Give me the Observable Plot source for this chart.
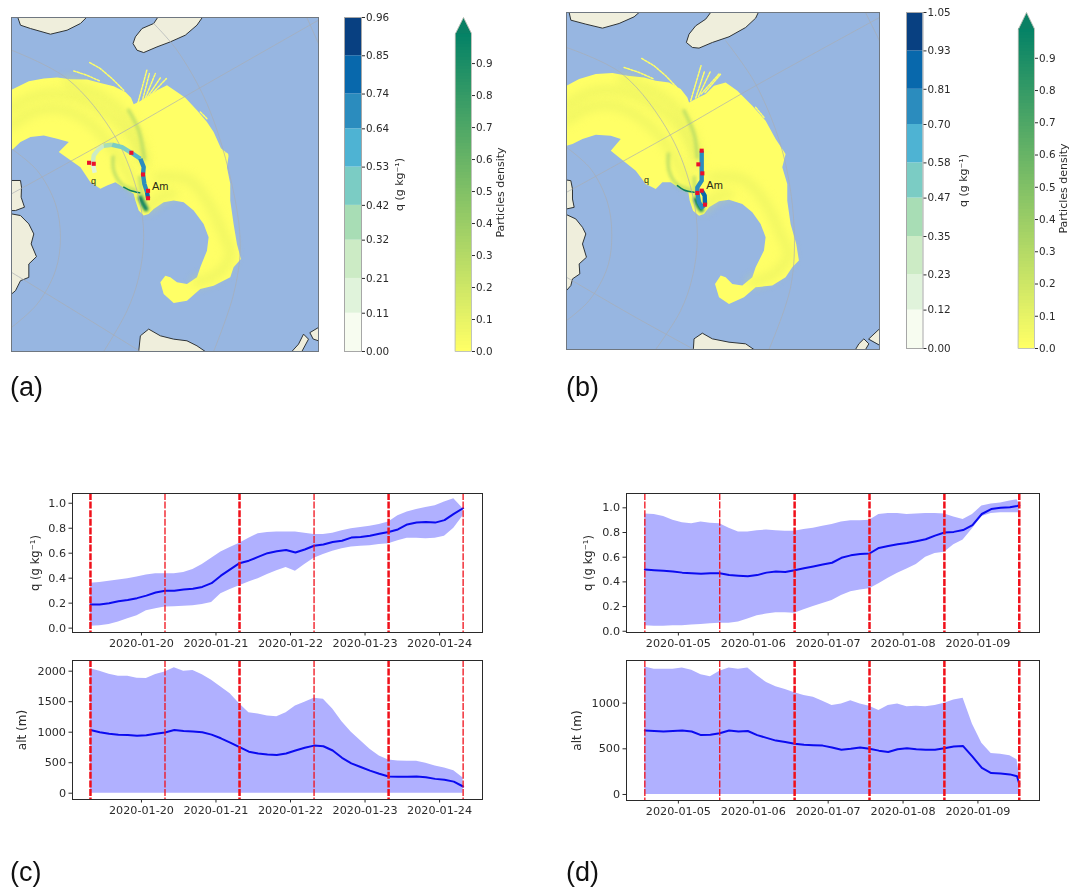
<!DOCTYPE html>
<html>
<head>
<meta charset="utf-8">
<script src="https://cdn.jsdelivr.net/npm/d3@7"></script>
<script src="https://cdn.jsdelivr.net/npm/@observablehq/plot@0.6"></script>
<style>
html,body{margin:0;padding:0;background:#fff}
#page{position:relative;width:1070px;height:890px;overflow:hidden;filter:blur(0.45px)}
.tag{position:absolute;font-family:"Liberation Sans",sans-serif;font-size:27px;line-height:30px;color:#111}
</style>
</head>
<body>
<div id="page"></div>
<script>
// ---------- colours ----------
const gnbu = ["#f7fcf0","#e0f3db","#ccebc5","#a8ddb5","#7bccc4","#4eb3d3","#2b8cbe","#0868ac","#084081"];
const ocean = "#97b6e1", land = "#efeedc", plumeYellow = "#ffff66";

// ---------- colour bars ----------
const qTicksA = [0.00,0.11,0.21,0.32,0.42,0.53,0.64,0.74,0.85,0.96];
const qTicksB = [0.00,0.12,0.23,0.35,0.47,0.58,0.70,0.81,0.93,1.05];
const densityTicks = [0,0.1,0.2,0.3,0.4,0.5,0.6,0.7,0.8,0.9];

// ---------- map A ----------
const plumeA = [[33,238],[85,213],[130,205],[170,202],[210,207],[260,208],[300,218],[340,228],[375,245],[392,262],[400,282],[420,272],[445,258],[470,240],[500,225],[530,245],[555,262],[590,300],[620,335],[640,365],[665,420],[685,435],[680,470],[690,520],[690,570],[700,640],[710,700],[722,745],[700,770],[690,800],[640,825],[600,835],[560,870],[520,877],[490,850],[480,815],[495,795],[510,800],[530,815],[560,820],[590,800],[600,770],[620,720],[625,680],[610,640],[580,600],[550,575],[520,570],[490,575],[460,595],[445,610],[430,615],[415,600],[405,570],[400,550],[375,535],[345,515],[320,525],[300,535],[270,515],[240,470],[175,425],[205,395],[170,385],[130,375],[90,380],[60,395],[33,420]];
const specksA = [[[268,157],[300,175],[335,205],[370,240]],[[220,182],[260,195],[300,213]],[[412,280],[440,178]],[[425,275],[447,190]],[[432,270],[465,190]],[[440,262],[482,200]],[[450,255],[498,205]],[[600,305],[620,325]],[[660,415],[682,432]]];
const streaksA = [
 [[33,295],[90,262],[160,250],[240,265],[310,305],[370,355],[415,420],[432,460]],
 [[33,345],[100,305],[175,295],[250,325],[315,385],[370,465],[405,535]],
 [[200,215],[290,250],[360,300],[410,370],[430,440]],
 [[470,500],[560,505],[620,570],[665,660],[690,735],[650,790],[590,815]],
 [[445,590],[490,555],[520,550]]];
const strongA = [[[385,300],[415,360],[432,445]],[[338,440],[340,480],[365,522],[405,540]],[[418,500],[425,550],[436,585]]];
const coreA = [[[370,530],[390,540],[418,547]]];
const blobA = [[[420,562],[427,578],[437,595]]];
const landsA = [
 [[52,22],[60,45],[90,55],[150,72],[200,60],[240,40],[258,22]],
 [[472,22],[460,40],[425,55],[405,80],[398,100],[410,120],[430,127],[470,110],[510,95],[555,75],[590,45],[606,22]],
 [[33,510],[60,510],[63,530],[62,560],[72,590],[45,600],[33,600]],
 [[33,610],[60,615],[85,640],[100,670],[92,700],[108,738],[85,760],[85,800],[60,810],[45,840],[33,850]],
 [[415,1022],[420,975],[445,955],[480,975],[520,985],[560,990],[590,1005],[615,1022]],
 [[875,1022],[895,1000],[910,970],[925,985],[905,1022]],
 [[930,965],[955,950],[955,990],[940,985]]];
const gridA = [
 [[33,415],[110,480],[165,580],[180,680],[165,780],[110,880],[33,950]],
 [[33,120],[200,205],[345,380],[415,560],[430,680],[415,800],[380,900],[310,1022]],
 [[460,40],[530,120],[620,280],[690,500],[720,700],[700,850],[640,1022]],
 [[920,22],[955,100]],
 [[33,550],[345,378],[600,232],[955,30]],
 [[33,785],[230,905],[420,1022]]];
const trajA = [[283,487,.2],[277,460,.23],[280,435,.27],[293,418,.3],[310,406,.33],[335,403,.45],[365,410,.5],[393,427,.6],[420,445,.68],[430,470,.68],[428,492,.68],[432,520,.7],[440,545,.8],[443,563,.92]];
const marksA = [[266,457],[280,460],[393,427],[428,492],[443,541],[443,563]];
const labelsA = [{x:455,y:528,t:"Am",s:11},{x:272,y:512,t:"q",s:9}];

// ---------- map B ----------
const plumeB = [[32,225],[70,205],[120,190],[170,187],[215,195],[265,200],[300,210],[340,215],[375,235],[395,260],[400,275],[425,262],[450,250],[475,225],[510,215],[545,240],[590,285],[630,330],[660,385],[690,430],[680,470],[695,520],[695,570],[705,640],[722,700],[730,750],[710,770],[690,800],[650,825],[600,830],[565,860],[520,880],[490,860],[478,820],[495,795],[510,800],[530,820],[560,825],[590,800],[600,770],[625,720],[630,680],[615,640],[590,605],[560,580],[520,567],[490,572],[460,590],[445,610],[430,615],[412,600],[402,570],[398,545],[375,535],[345,515],[320,515],[300,535],[270,520],[240,480],[165,420],[195,385],[165,375],[120,372],[80,385],[50,400],[32,405]];
const specksB = [[[258,143],[295,165],[330,195],[365,232]],[[205,170],[250,185],[295,205]],[[405,270],[436,165]],[[420,262],[447,180]],[[428,258],[465,180]],[[436,250],[490,190]],[[448,245],[495,190]],[[600,290],[625,320]],[[655,408],[685,430]]];
const streaksB = [
 [[32,285],[90,250],[160,238],[240,255],[310,295],[370,345],[412,420],[425,470]],
 [[32,330],[100,290],[175,285],[250,320],[315,380],[370,465],[405,530]],
 [[200,205],[290,240],[360,290],[405,360],[425,430]],
 [[470,500],[560,505],[625,570],[670,660],[698,735],[655,790],[590,815]],
 [[445,590],[490,555],[520,550]]];
const strongB = [[[385,300],[415,370],[425,440]],[[338,430],[340,480],[365,522],[405,538]],[[416,500],[420,550],[433,590]]];
const coreB = [[[365,525],[385,538],[415,545]]];
const blobB = [[[420,567],[427,582],[437,597]]];
const landsB = [
 [[40,5],[45,28],[90,40],[140,52],[190,38],[235,18],[250,5]],
 [[465,5],[450,25],[420,45],[400,70],[392,95],[410,110],[430,112],[470,95],[520,78],[570,50],[600,22],[608,5]],
 [[32,508],[45,510],[50,535],[50,565],[55,590],[32,595]],
 [[32,612],[60,625],[80,650],[90,670],[80,700],[92,740],[70,760],[72,790],[50,805],[45,825],[32,840]],
 [[413,1017],[415,985],[440,968],[470,985],[520,995],[570,1000],[595,1017]],
 [[900,1017],[910,1000],[925,985],[940,1000],[930,1017]],
 [[940,985],[972,955],[972,1003]]];
const gridB = [
 [[32,410],[105,475],[155,575],[168,670],[155,770],[100,870],[32,930]],
 [[32,110],[200,190],[345,375],[410,550],[425,680],[410,800],[375,900],[300,1017]],
 [[510,90],[600,220],[680,420],[715,640],[705,830],[640,1017]],
 [[930,5],[972,90]],
 [[32,545],[345,372],[600,225],[972,20]],
 [[32,800],[230,915],[415,1017]]];
const trajB = [[438,420,.75],[438,460,.75],[438,490,.75],[438,510,.75],[425,530,.75],[425,547,.75],[430,575,.75],[438,590,.78],[448,582,.9],[447,555,.9],[438,540,.85]];
const marksB = [[438,420],[428,461],[440,488],[438,540],[425,547],[448,582]];
const labelsB = [{x:452,y:525,t:"Am",s:11},{x:265,y:508,t:"q",s:9}];

// ---------- time series: offsets in days from the first red line ----------
const daysC = [0,.125,.25,.375,.5,.625,.75,.875,1,1.125,1.25,1.375,1.5,1.625,1.75,1.875,2,2.125,2.25,2.375,2.5,2.625,2.75,2.875,3,3.125,3.25,3.375,3.5,3.625,3.75,3.875,4,4.125,4.25,4.375,4.5,4.625,4.75,4.875,5];
const daysD = [0,.125,.25,.375,.5,.625,.75,.875,1,1.125,1.25,1.375,1.5,1.625,1.75,1.875,2,2.125,2.25,2.375,2.5,2.625,2.75,2.875,3,3.125,3.25,3.375,3.5,3.625,3.75,3.875,4,4.125,4.25,4.375,4.5,4.625,4.75,4.875,4.97,5];

const qMeanC = [.19,.19,.20,.215,.225,.24,.26,.285,.30,.30,.31,.315,.33,.36,.42,.47,.52,.54,.57,.60,.615,.625,.605,.63,.66,.67,.69,.70,.725,.73,.74,.755,.77,.79,.83,.845,.85,.845,.865,.915,.96];
const qHighC = [.36,.365,.375,.385,.395,.41,.425,.435,.435,.435,.445,.47,.51,.56,.61,.645,.68,.72,.755,.765,.77,.77,.77,.76,.75,.75,.76,.78,.795,.805,.815,.83,.85,.90,.93,.95,.965,.98,1.01,1.035,.955];
const qLowC = [.015,.02,.03,.05,.075,.10,.14,.155,.17,.172,.175,.18,.19,.205,.275,.31,.34,.37,.395,.43,.46,.485,.455,.51,.56,.59,.615,.635,.65,.655,.66,.67,.675,.70,.72,.72,.715,.72,.735,.80,.90];
const altHighC = [2040,2000,1950,1915,1915,1885,1880,1945,1985,2055,2000,2010,1940,1850,1740,1630,1465,1320,1300,1265,1255,1320,1430,1490,1555,1540,1380,1170,1000,860,720,610,545,530,525,525,490,445,415,370,250];
const altMeanC = [1035,1000,975,960,955,940,950,975,995,1035,1020,1010,1000,960,900,830,755,680,650,635,625,650,700,745,780,770,700,580,490,430,370,320,275,270,270,275,260,235,220,190,110];

const qHighD = [.95,.945,.93,.90,.88,.87,.885,.875,.87,.835,.805,.805,.815,.82,.815,.81,.81,.825,.835,.85,.865,.885,.895,.895,.90,.945,.955,.955,.945,.95,.955,.955,.95,.925,.905,.945,1.015,1.03,1.04,1.055,1.065,1.03];
const qMeanD = [.50,.495,.49,.485,.475,.47,.465,.47,.47,.455,.45,.445,.455,.475,.485,.48,.495,.51,.525,.54,.555,.595,.615,.625,.63,.675,.69,.705,.715,.73,.745,.775,.80,.805,.82,.86,.95,.99,1.0,1.005,1.015,1.02];
const qLowD = [.045,.04,.04,.045,.045,.05,.055,.06,.065,.065,.075,.10,.125,.14,.15,.15,.145,.175,.20,.225,.25,.29,.32,.335,.345,.385,.43,.47,.505,.54,.60,.63,.64,.70,.74,.83,.93,.955,.96,.96,.96,.96];
const altHighD = [1395,1370,1370,1370,1385,1360,1310,1290,1350,1385,1370,1385,1300,1225,1180,1150,1113,1085,1065,1020,975,990,1025,990,965,920,975,990,960,965,960,975,1000,1035,1055,770,560,450,440,425,380,225];
const altMeanD = [700,695,690,695,700,690,650,655,670,700,690,695,650,620,590,575,555,545,540,535,515,490,500,515,500,480,465,495,505,495,490,490,505,525,530,415,290,235,230,220,200,115];

const datesC = ["2020-01-20","2020-01-21","2020-01-22","2020-01-23","2020-01-24"];
const datesD = ["2020-01-05","2020-01-06","2020-01-07","2020-01-08","2020-01-09"];
const redOffsets = [0,1,2,3,4,5];
const redWidthsC = [2.5,1.3,2.5,1.3,2.5,1.3];
const redWidthsD = [1.3,1.3,2.5,2.5,2.5,2.5];

// ---------- layout helpers ----------
const page = document.getElementById("page");
const baseStyle = (l,t,fs) => ({position:"absolute",left:l+"px",top:t+"px",background:"none",overflow:"visible",fontFamily:"'DejaVu Sans',sans-serif",fontSize:(fs||10.4)+"px",color:"#2b2b2b"});
const X = d => d[0], Y = d => d[1];
const closed = (pts,o) => Plot.line(pts,{x:X,y:Y,curve:"linear-closed",stroke:"none",...o});
const open = (pts,o) => Plot.line(pts,{x:X,y:Y,fill:"none",...o});

function mapPanel(f, c){
  const w = f.x2-f.x1, h = f.y2-f.y1;
  page.appendChild(Plot.plot({
    width:w,height:h,margin:0,style:baseStyle(f.x1,f.y1),
    x:{domain:c.dx,axis:null},y:{domain:c.dy,axis:null},
    color:{type:"threshold",domain:c.qTicks.slice(1,-1),range:gnbu},
    marks:[
      Plot.frame({fill:ocean,stroke:"none"}),
      c.lands.map(p=>closed(p,{fill:land,stroke:"#2f3437",strokeWidth:1,clip:true})),
      closed(c.plume,{fill:plumeYellow,clip:true}),
      c.specks.map(p=>open(p,{stroke:plumeYellow,strokeWidth:1.5,strokeDasharray:"2.2,1.4",clip:true})),
      c.streaks.map(p=>open(p,{stroke:"#d9ea5e",strokeOpacity:.38,strokeWidth:10,curve:"catmull-rom",imageFilter:"blur(4px)",clip:true})),
      c.strong.map(p=>open(p,{stroke:"#9fd066",strokeOpacity:.6,strokeWidth:3.5,curve:"catmull-rom",imageFilter:"blur(1.8px)"})),
      c.blob.map(p=>open(p,{stroke:"#5cb066",strokeOpacity:.75,strokeWidth:6,curve:"catmull-rom",imageFilter:"blur(1.5px)"})),
      c.blob.map(p=>open(p,{stroke:"#0c7f62",strokeWidth:3,curve:"catmull-rom",imageFilter:"blur(.8px)"})),
      c.core.map(p=>open(p,{stroke:"#0c7f62",strokeWidth:1.5,curve:"catmull-rom",imageFilter:"blur(.6px)"})),
      c.grid.map(p=>open(p,{stroke:"#a9adb3",strokeOpacity:.75,strokeWidth:.9,curve:"catmull-rom",clip:true})),
      Plot.line(c.traj,{x:X,y:Y,z:null,stroke:d=>d[2],strokeWidth:4.4,strokeLinecap:"butt"}),
      Plot.dot(c.marks,{x:X,y:Y,symbol:"square",r:2.3,fill:"#ea0f2b"}),
      Plot.text(c.labels,{x:"x",y:"y",text:"t",fontSize:"s",textAnchor:"start",fill:"#2b2b16",fontFamily:"'Liberation Sans',sans-serif"}),
      Plot.frame({stroke:"#6f7780",strokeWidth:1})
    ]
  }));
}

function qBar(f, ticks){
  const ml=4, mr=36, w=f.x2-f.x1, h=f.y2-f.y1;
  const bands = ticks.slice(0,-1).map((v,i)=>({y1:v,y2:ticks[i+1]}));
  page.appendChild(Plot.plot({
    width:w+ml+mr,height:h+2,marginLeft:ml,marginRight:mr,marginTop:1,marginBottom:1,style:baseStyle(f.x1-ml,f.y1-1),
    x:{domain:[0,1],axis:null},
    y:{domain:[0,ticks[ticks.length-1]],axis:null},
    color:{type:"threshold",domain:ticks.slice(1,-1),range:gnbu},
    marks:[
      Plot.rect(bands,{x1:0,x2:1,y1:"y1",y2:"y2",fill:"y1"}),
      Plot.frame({stroke:"#a7a7a7",strokeWidth:1}),
      Plot.axisY({anchor:"right",ticks:ticks,tickFormat:d3.format(".2f"),tickSize:3,tickPadding:1.5,label:null,fill:"#2b2b2b"}),
      Plot.text(["q (g kg⁻¹)"],{frameAnchor:"right",textAnchor:"middle",rotate:-90,dx:f.labelDx,fontSize:11,fill:"#2b2b2b"})
    ]
  }));
}

function densityBar(f){
  const ml=4, mr=36, w=f.x2-f.x1, h=f.y2-f.y1;
  const levels = d3.range(0,f.body,0.01);
  page.appendChild(Plot.plot({
    width:w+ml+mr,height:h+2,marginLeft:ml,marginRight:mr,marginTop:1,marginBottom:1,style:baseStyle(f.x1-ml,f.y1-1),
    x:{domain:[0,1],axis:null},
    y:{domain:[0,f.tip],axis:null},
    color:{type:"linear",domain:[0,1],range:["#ffff66","#008066"],interpolate:"rgb"},
    marks:[
      Plot.rect(levels,{x1:0,x2:1,y1:d=>d,y2:d=>Math.min(d+0.02,f.body),fill:d=>d,shapeRendering:"crispEdges"}),
      closed([[0,f.body],[.5,f.tip],[1,f.body]],{fill:"#0a8064"}),
      closed([[0,0],[1,0],[1,f.body],[.5,f.tip],[0,f.body]],{fill:"none",stroke:"#b9bdb4",strokeWidth:.9}),
      Plot.axisY({anchor:"right",ticks:densityTicks,tickFormat:d3.format(".1f"),tickSize:3,tickPadding:1.5,label:null,fill:"#2b2b2b"}),
      Plot.text(["Particles density"],{frameAnchor:"right",textAnchor:"middle",rotate:-90,dx:f.labelDx,dy:f.labelDy,fontSize:11,fill:"#2b2b2b"})
    ]
  }));
}

function seriesPanel(f, c){
  const ml=70, mr=20, mt=2, mb=26;
  const w=f.x2-f.x1, h=f.y2-f.y1;
  const at = d => new Date(c.start + d*864e5);
  const table = c.days.map((d,i)=>({t:at(d),mean:c.mean[i],hi:c.high[i],lo:c.low?c.low[i]:0}));
  const rules = redOffsets.map((d,i)=>({t:at(d),w:c.widths[i]}));
  page.appendChild(Plot.plot({
    width:w+ml+mr,height:h+mt+mb,marginLeft:ml,marginRight:mr,marginTop:mt,marginBottom:mb,style:baseStyle(f.x1-ml,f.y1-mt,11.2),
    x:{type:"utc",domain:c.xdom.map(at),axis:null},
    y:{domain:c.ydom,axis:null},
    marks:[
      Plot.areaY(table,{x:"t",y1:"lo",y2:"hi",fill:"#b0b0ff"}),
      Plot.line(table,{x:"t",y:"mean",stroke:"#0b0bf0",strokeWidth:2}),
      rules.map(r=>Plot.ruleX([r.t],{stroke:"#f0101a",strokeWidth:r.w,strokeDasharray:"7,1.6"})),
      Plot.frame({stroke:"#2a2a2a",strokeWidth:1}),
      Plot.axisX({ticks:c.dates.map(s=>new Date(s+"T00:00Z")),tickFormat:d3.utcFormat("%Y-%m-%d"),tickSize:3.5,tickPadding:3.5,label:null,fill:"#2b2b2b"}),
      Plot.axisY({ticks:c.yticks,tickFormat:c.yfmt,tickSize:3.5,tickPadding:3,label:null,fill:"#2b2b2b"}),
      Plot.text([c.label],{frameAnchor:"left",textAnchor:"middle",rotate:-90,dx:-c.labelOff,fontSize:c.labelSize,fill:"#2b2b2b"})
    ]
  }));
}

// ---------- panels a, b ----------
mapPanel({x1:11,y1:17,x2:318,y2:351},{dx:[33,955],dy:[1022,22],plume:plumeA,specks:specksA,streaks:streaksA,strong:strongA,core:coreA,blob:blobA,lands:landsA,grid:gridA,traj:trajA,marks:marksA,labels:labelsA,qTicks:qTicksA});
qBar({x1:344,y1:17,x2:361,y2:351,labelDx:38},qTicksA);
densityBar({x1:455,y1:17,x2:471,y2:351,body:.994,tip:1.044,labelDx:29,labelDy:8});

mapPanel({x1:566,y1:12,x2:879,y2:349},{dx:[32,972],dy:[1017,5],plume:plumeB,specks:specksB,streaks:streaksB,strong:strongB,core:coreB,blob:blobB,lands:landsB,grid:gridB,traj:trajB,marks:marksB,labels:labelsB,qTicks:qTicksB});
qBar({x1:906,y1:12,x2:922.5,y2:348,labelDx:40},qTicksB);
densityBar({x1:1018,y1:12,x2:1034,y2:348,body:.991,tip:1.042,labelDx:29,labelDy:8});

// ---------- panels c, d ----------
const startC = Date.UTC(2020,0,19,7,35), startD = Date.UTC(2020,0,4,13,15);
const domC = [-0.241,5.26], domD = [-0.245,5.27];
const fmt1 = d3.format(".1f"), fmt0 = d3.format("d");
const qTicksAxis = [0,.2,.4,.6,.8,1];
seriesPanel({x1:72,y1:493,x2:482,y2:632},{start:startC,days:daysC,mean:qMeanC,high:qHighC,low:qLowC,xdom:domC,widths:redWidthsC,dates:datesC,ydom:[-.035,1.078],yticks:qTicksAxis,yfmt:fmt1,label:"q (g kg⁻¹)",labelOff:37,labelSize:11.6});
seriesPanel({x1:72,y1:660,x2:482,y2:799},{start:startC,days:daysC,mean:altMeanC,high:altHighC,xdom:domC,widths:redWidthsC,dates:datesC,ydom:[-103,2175],yticks:[0,500,1000,1500,2000],yfmt:fmt0,label:"alt (m)",labelOff:50,labelSize:12});
seriesPanel({x1:626,y1:493,x2:1039,y2:632},{start:startD,days:daysD,mean:qMeanD,high:qHighD,low:qLowD,xdom:domD,widths:redWidthsD,dates:datesD,ydom:[-.01,1.116],yticks:qTicksAxis,yfmt:fmt1,label:"q (g kg⁻¹)",labelOff:38,labelSize:11.6});
seriesPanel({x1:626,y1:660,x2:1039,y2:800},{start:startD,days:daysD,mean:altMeanD,high:altHighD,xdom:domD,widths:redWidthsD,dates:datesD,ydom:[-66,1467],yticks:[0,500,1000],yfmt:fmt0,label:"alt (m)",labelOff:49,labelSize:12});

// ---------- panel tags ----------
[["(a)",10,372],["(b)",566,372],["(c)",10,857],["(d)",566,857]].forEach(([t,l,tp])=>{
  const d=document.createElement("div");d.className="tag";d.textContent=t;d.style.left=l+"px";d.style.top=tp+"px";page.appendChild(d);
});
</script>
</body>
</html>
